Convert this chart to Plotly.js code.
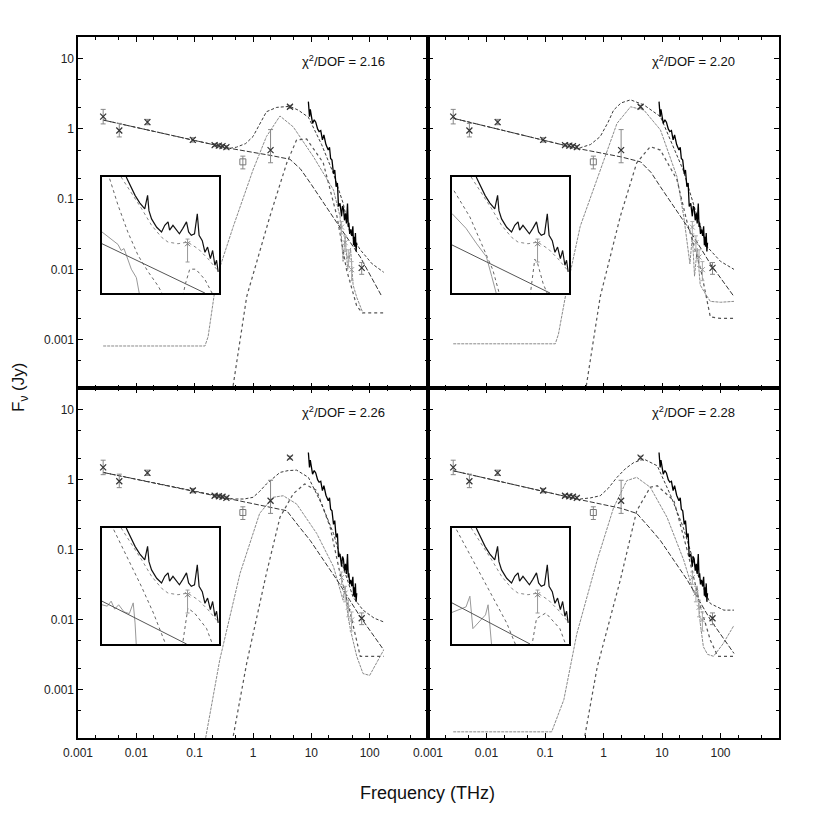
<!DOCTYPE html>
<html>
<head>
<meta charset="utf-8">
<script src="https://cdn.plot.ly/plotly-3.0.1.min.js"></script>
<style>html,body{margin:0;padding:0;background:#fff;}#plot{width:817px;height:817px;}</style>
</head>
<body>
<div id="plot"></div>
<script>
// ---------------- DATA ----------------
// axis ticks
const xTickVals = [0.001, 0.01, 0.1, 1, 10, 100];
const xTickText = ['0.001', '0.01', '0.1', '1', '10', '100'];
const xMinorVals = [0.002, 0.005, 0.02, 0.05, 0.2, 0.5, 2, 5, 20, 50, 200, 500];
const yTickVals = [0.001, 0.01, 0.1, 1, 10];
const yTickText = ['0.001', '0.01', '0.1', '1', '10'];
const yMinorVals = [0.0005, 0.002, 0.005, 0.02, 0.05, 0.2, 0.5, 2, 5, 20];

// panel labels
const chiLabels = ['2.16', '2.20', '2.26', '2.28'];

// photometric points (same in all panels)
const ptFreq = [0.0027, 0.0051, 0.0155, 0.093, 0.22, 0.26, 0.30, 0.35, 2.0, 4.3, 73];
const ptFlux = [1.5, 0.95, 1.25, 0.70, 0.59, 0.58, 0.57, 0.55, 0.50, 2.07, 0.0105];
const ptErrHi = [0.4, 0.25, 0.12, 0.05, 0.03, 0.03, 0.03, 0.03, 0.48, 0.1, 0.002];
const ptErrLo = [0.32, 0.18, 0.1, 0.05, 0.03, 0.03, 0.03, 0.03, 0.17, 0.1, 0.002];
const sqFreq = [0.67];
const sqFlux = [0.34];
const sqErr = [0.07];
const isoFreq = [33, 38, 43, 49];
const isoFlux = [0.04, 0.024, 0.015, 0.0099];
const isoErr = [0.008, 0.006, 0.004, 0.003];

// mid-IR spectrum (same in all panels)
const specFreq = [8.9, 9.3, 9.6, 10.5, 11.2, 11.9, 12.8, 13.6, 14.5, 15.5, 16.4, 17.8, 19.5, 20.5, 21.4, 22.6, 24, 25.2, 26.6, 28, 29.2, 31, 33, 34.2, 35.5, 37, 38.5, 40, 41.7, 43, 44, 45.5, 47.5, 49.5, 51.5, 53, 54, 55.5, 57, 58.5, 60];
const specFlux = [2.45, 1.5, 1.9, 1.2, 1.35, 1.25, 1.0, 0.92, 0.95, 0.70, 0.82, 0.6, 0.5, 0.55, 0.38, 0.36, 0.23, 0.26, 0.15, 0.17, 0.079, 0.087, 0.057, 0.08, 0.074, 0.05, 0.063, 0.045, 0.087, 0.04, 0.046, 0.032, 0.037, 0.03, 0.041, 0.022, 0.029, 0.021, 0.033, 0.018, 0.024];

// panel 1 (chi2 = 2.16)
const p1PlFreq = [0.0027, 0.4, 2, 4.3, 6.5, 9.6, 27.5, 69, 162];
const p1PlFlux = [1.34, 0.53, 0.42, 0.37, 0.27, 0.17, 0.046, 0.015, 0.0041];
const p1TotFreq = [0.0027, 0.4, 0.52, 0.75, 1.0, 1.3, 1.7, 2.55, 4.3, 6, 8.9, 15, 24, 35, 46, 69, 110, 174];
const p1TotFlux = [1.34, 0.53, 0.55, 0.62, 0.78, 1.15, 1.76, 2.03, 2.1, 1.85, 1.47, 0.6, 0.23, 0.088, 0.033, 0.019, 0.012, 0.0091];
const p1CoolFreq = [0.0027, 0.15, 0.17, 0.24, 0.46, 1.0, 1.7, 2.9, 4.9, 10.9, 24, 31, 35, 38, 42, 47, 52, 60, 75];
const p1CoolFlux = [0.00081, 0.00081, 0.0011, 0.0079, 0.041, 0.26, 0.78, 1.53, 1.07, 0.40, 0.135, 0.057, 0.013, 0.03, 0.01, 0.02, 0.006, 0.004, 0.0025];
const p1WarmFreq = [0.44, 0.78, 1.95, 3.8, 5.6, 8.3, 16, 27.5, 40, 60, 75, 170];
const p1WarmFlux = [0.00018, 0.0041, 0.057, 0.33, 0.70, 0.72, 0.33, 0.057, 0.01, 0.003, 0.0024, 0.0024];

// panel 2 (chi2 = 2.20)
const p2PlFreq = [0.0027, 0.35, 2, 4.3, 6.5, 9.4, 27, 67, 170];
const p2PlFlux = [1.42, 0.53, 0.40, 0.34, 0.24, 0.15, 0.041, 0.012, 0.0041];
const p2TotFreq = [0.0027, 0.35, 0.4, 0.6, 0.88, 1.2, 1.49, 2.0, 2.9, 4.9, 9.4, 15, 23, 40, 59, 100, 170];
const p2TotFlux = [1.42, 0.53, 0.54, 0.6, 0.78, 1.25, 1.86, 2.35, 2.6, 2.2, 1.5, 0.6, 0.26, 0.057, 0.021, 0.013, 0.01];
const p2CoolFreq = [0.0027, 0.15, 0.17, 0.24, 0.4, 0.88, 1.7, 2.9, 4.9, 9.4, 18, 23.5, 27, 30, 33, 36, 40, 45, 55, 67, 100, 170];
const p2CoolFlux = [0.00087, 0.00087, 0.0012, 0.0057, 0.041, 0.26, 1.2, 2.07, 1.86, 0.97, 0.21, 0.057, 0.024, 0.012, 0.03, 0.008, 0.02, 0.006, 0.0045, 0.0035, 0.0034, 0.0035];
const p2WarmFreq = [0.49, 0.88, 1.94, 3.7, 6.3, 9.4, 18, 27, 46, 67, 100, 170];
const p2WarmFlux = [0.00018, 0.0041, 0.057, 0.33, 0.56, 0.5, 0.19, 0.046, 0.01, 0.0021, 0.002, 0.002];

// panel 3 (chi2 = 2.26)
const p3PlFreq = [0.0027, 0.4, 2, 3.8, 6, 9.6, 27.5, 69, 174];
const p3PlFlux = [1.27, 0.53, 0.41, 0.36, 0.22, 0.135, 0.037, 0.011, 0.0037];
const p3TotFreq = [0.0027, 0.4, 0.46, 0.7, 1.0, 1.3, 1.7, 2.9, 4, 5.6, 8.9, 15, 24, 35, 52, 77, 120, 174];
const p3TotFlux = [1.27, 0.53, 0.53, 0.53, 0.56, 0.68, 0.87, 1.27, 1.35, 1.37, 1.08, 0.45, 0.17, 0.057, 0.021, 0.0137, 0.0105, 0.0093];
const p3CoolFreq = [0.15, 0.27, 0.6, 1.3, 2.2, 3.3, 5.6, 12.4, 24, 35, 38, 42, 47, 60, 77, 100, 174];
const p3CoolFlux = [0.00018, 0.0027, 0.046, 0.33, 0.56, 0.59, 0.45, 0.17, 0.057, 0.019, 0.03, 0.012, 0.0071, 0.003, 0.0017, 0.0016, 0.0037];
const p3WarmFreq = [0.44, 0.78, 1.7, 2.9, 4.9, 7.7, 12.4, 21, 31, 47, 69, 174];
const p3WarmFlux = [0.00018, 0.0024, 0.046, 0.29, 0.63, 0.87, 0.70, 0.21, 0.046, 0.012, 0.003, 0.003];

// panel 4 (chi2 = 2.28)
const p4PlFreq = [0.0027, 0.35, 2, 3.7, 6, 9.4, 27, 67, 170];
const p4PlFlux = [1.34, 0.53, 0.39, 0.33, 0.21, 0.135, 0.037, 0.01, 0.0033];
const p4TotFreq = [0.0027, 0.35, 0.4, 0.6, 0.88, 1.2, 1.7, 2.4, 3.3, 4.9, 8.3, 14, 23, 40, 67, 114, 170];
const p4TotFlux = [1.34, 0.53, 0.53, 0.55, 0.59, 0.75, 1.08, 1.45, 1.76, 1.97, 1.58, 0.6, 0.21, 0.046, 0.017, 0.0137, 0.0137];
const p4CoolFreq = [0.0027, 0.13, 0.21, 0.35, 0.78, 1.49, 2.5, 3.7, 6.3, 12.2, 23.5, 35, 40, 45, 51, 60, 76, 110, 170];
const p4CoolFlux = [0.00025, 0.00025, 0.00072, 0.0063, 0.071, 0.40, 0.97, 1.08, 0.78, 0.29, 0.071, 0.024, 0.03, 0.009, 0.0041, 0.0032, 0.003, 0.0045, 0.0083];
const p4WarmFreq = [0.46, 0.78, 1.94, 3.7, 6.3, 8.3, 16, 27, 46, 67, 90, 170];
const p4WarmFlux = [0.00018, 0.0021, 0.037, 0.36, 0.78, 0.82, 0.5, 0.098, 0.015, 0.0051, 0.003, 0.003];

// insets (mid-IR close-up)
const inSpecFreq = [8.9, 9.6, 10.7, 11.8, 13.1, 13.9, 14.3, 15.1, 16.8, 18.6, 19.9, 21.3, 22, 23.6, 25.2, 27, 29, 31.3, 32.7, 34.6, 37, 39.2, 40.7, 43.5, 46, 48.6, 51.5, 54, 56.6, 58.6, 60.6];
const inSpecFlux = [2.4, 1.6, 0.95, 0.65, 0.48, 0.95, 0.44, 0.29, 0.19, 0.15, 0.21, 0.25, 0.165, 0.21, 0.165, 0.137, 0.18, 0.25, 0.15, 0.127, 0.137, 0.375, 0.127, 0.097, 0.054, 0.07, 0.039, 0.059, 0.028, 0.036, 0.02];
const inTotFreq = [8.0, 9.9, 12.3, 15.1, 18.6, 21.3, 26.2, 32, 40, 49, 60.6];
const inTotFlux = [2.4, 1.1, 0.48, 0.21, 0.115, 0.09, 0.083, 0.09, 0.064, 0.039, 0.021];
const inPtFreq = [32];
const inPtFlux = [0.083];
const inPtErrHi = [0.022];
const inPtErrLo = [0.05];

const in1CoolFreq = [6.3, 7.5, 9.2, 11.4, 14.1, 17.4, 19.3];
const in1CoolFlux = [2.2, 0.58, 0.15, 0.046, 0.02, 0.0097, 0.006];
const in1PahFreq = [5.37, 6.5, 7.5, 8.0, 8.5, 9.9, 11, 11.8];
const in1PahFlux = [0.15, 0.105, 0.08, 0.059, 0.065, 0.023, 0.015, 0.006];
const in1PlFreq = [5.37, 46];
const in1PlFlux = [0.083, 0.0069];
const in1WarmFreq = [29, 30.6, 33.5, 38, 46, 55];
const in1WarmFlux = [0.006, 0.011, 0.023, 0.023, 0.0136, 0.006];

const in2CoolFreq = [5.6, 7.8, 10.2, 12.6, 14.6];
const in2CoolFlux = [1.2, 0.32, 0.072, 0.022, 0.006];
const in2PahFreq = [5.37, 7.2, 8.9, 11, 12.3, 13.7];
const in2PahFlux = [0.38, 0.18, 0.0855, 0.043, 0.016, 0.006];
const in2PlFreq = [5.37, 41.5];
const in2PlFlux = [0.078, 0.0069];
const in2WarmFreq = [27.4, 30.2, 32, 36, 40];
const in2WarmFlux = [0.006, 0.038, 0.031, 0.011, 0.006];

const in3CoolFreq = [6.86, 9.0, 12.2, 15.7, 20.7];
const in3CoolFlux = [2.2, 0.58, 0.127, 0.033, 0.006];
const in3PahFreq = [5.37, 6.0, 6.5, 7.0, 7.6, 8.5, 9.5, 10.3, 10.7, 11];
const in3PahFlux = [0.05, 0.0466, 0.06, 0.04, 0.05, 0.035, 0.032, 0.055, 0.02, 0.006];
const in3PlFreq = [5.37, 31.4];
const in3PlFlux = [0.06, 0.0069];
const in3WarmFreq = [28.6, 32.2, 37, 47.5, 55];
const in3WarmFlux = [0.006, 0.042, 0.033, 0.0152, 0.006];

const in4CoolFreq = [5.9, 8.3, 11.8, 16.8, 20.6];
const in4CoolFlux = [2.2, 0.47, 0.092, 0.02, 0.006];
const in4PahFreq = [5.37, 7.2, 7.8, 8.3, 10.8, 11.4, 12.3];
const in4PahFlux = [0.034, 0.045, 0.077, 0.015, 0.03, 0.05, 0.006];
const in4PlFreq = [5.37, 27.4];
const in4PlFlux = [0.055, 0.0069];
const in4WarmFreq = [28.3, 31.3, 38, 51, 58.6];
const in4WarmFlux = [0.006, 0.025, 0.033, 0.015, 0.006];

// ---------------- BUILD ----------------
const W = 817, H = 817;
const px = v => v / W;
const py = v => 1 - v / H;

const panels = [
  {x: 'x', y: 'y', pl: [p1PlFreq, p1PlFlux], tot: [p1TotFreq, p1TotFlux], cool: [p1CoolFreq, p1CoolFlux], warm: [p1WarmFreq, p1WarmFlux]},
  {x: 'x2', y: 'y2', pl: [p2PlFreq, p2PlFlux], tot: [p2TotFreq, p2TotFlux], cool: [p2CoolFreq, p2CoolFlux], warm: [p2WarmFreq, p2WarmFlux]},
  {x: 'x3', y: 'y3', pl: [p3PlFreq, p3PlFlux], tot: [p3TotFreq, p3TotFlux], cool: [p3CoolFreq, p3CoolFlux], warm: [p3WarmFreq, p3WarmFlux]},
  {x: 'x4', y: 'y4', pl: [p4PlFreq, p4PlFlux], tot: [p4TotFreq, p4TotFlux], cool: [p4CoolFreq, p4CoolFlux], warm: [p4WarmFreq, p4WarmFlux]}
];
const insets = [
  {x: 'x5', y: 'y5', cool: [in1CoolFreq, in1CoolFlux], pah: [in1PahFreq, in1PahFlux], pl: [in1PlFreq, in1PlFlux], warm: [in1WarmFreq, in1WarmFlux]},
  {x: 'x6', y: 'y6', cool: [in2CoolFreq, in2CoolFlux], pah: [in2PahFreq, in2PahFlux], pl: [in2PlFreq, in2PlFlux], warm: [in2WarmFreq, in2WarmFlux]},
  {x: 'x7', y: 'y7', cool: [in3CoolFreq, in3CoolFlux], pah: [in3PahFreq, in3PahFlux], pl: [in3PlFreq, in3PlFlux], warm: [in3WarmFreq, in3WarmFlux]},
  {x: 'x8', y: 'y8', cool: [in4CoolFreq, in4CoolFlux], pah: [in4PahFreq, in4PahFlux], pl: [in4PlFreq, in4PlFlux], warm: [in4WarmFreq, in4WarmFlux]}
];

function ln(xy, xa, ya, color, dash, width) {
  return {x: xy[0], y: xy[1], xaxis: xa, yaxis: ya, type: 'scatter', mode: 'lines',
    line: {color: color, dash: dash, width: width}, hoverinfo: 'skip'};
}

const traces = [];
panels.forEach(p => {
  traces.push(ln(p.cool, p.x, p.y, '#8a8a8a', '3px,1px', 1));
  traces.push(ln(p.warm, p.x, p.y, '#555', 'dot', 1.2));
  traces.push(ln(p.pl, p.x, p.y, '#333', '5px,2px', 1));
  traces.push(ln(p.tot, p.x, p.y, '#3a3a3a', '3px,2px', 1));
  traces.push(ln([specFreq, specFlux], p.x, p.y, '#000', 'solid', 1.3));
  traces.push({x: isoFreq, y: isoFlux, xaxis: p.x, yaxis: p.y, type: 'scatter', mode: 'markers',
    marker: {symbol: 'x-thin-open', size: 5, color: '#999', line: {width: 1, color: '#999'}},
    error_y: {type: 'data', array: isoErr, thickness: 1, width: 2, color: '#aaa'}, hoverinfo: 'skip'});
  traces.push({x: ptFreq, y: ptFlux, xaxis: p.x, yaxis: p.y, type: 'scatter', mode: 'markers',
    marker: {symbol: 'x-thin-open', size: 6, color: '#333', line: {width: 1.2, color: '#333'}},
    error_y: {type: 'data', array: ptErrHi, arrayminus: ptErrLo, thickness: 1, width: 2.5, color: '#888'}, hoverinfo: 'skip'});
  traces.push({x: sqFreq, y: sqFlux, xaxis: p.x, yaxis: p.y, type: 'scatter', mode: 'markers',
    marker: {symbol: 'square-open', size: 6, color: '#777', line: {width: 1, color: '#777'}},
    error_y: {type: 'data', array: sqErr, thickness: 1, width: 2.5, color: '#888'}, hoverinfo: 'skip'});
});
insets.forEach(s => {
  traces.push(ln(s.cool, s.x, s.y, '#666', 'dot', 1));
  traces.push(ln(s.pah, s.x, s.y, '#999', 'solid', 1));
  traces.push(ln(s.pl, s.x, s.y, '#555', 'solid', 1));
  traces.push(ln(s.warm, s.x, s.y, '#666', 'dot', 1));
  traces.push(ln([inTotFreq, inTotFlux], s.x, s.y, '#888', 'dot', 1));
  traces.push(ln([inSpecFreq, inSpecFlux], s.x, s.y, '#111', 'solid', 1.2));
  traces.push({x: inPtFreq, y: inPtFlux, xaxis: s.x, yaxis: s.y, type: 'scatter', mode: 'markers',
    marker: {symbol: 'x-thin-open', size: 5, color: '#777', line: {width: 1, color: '#777'}},
    error_y: {type: 'data', array: inPtErrHi, arrayminus: inPtErrLo, thickness: 1, width: 2, color: '#999'}, hoverinfo: 'skip'});
});

const tickFont = {family: 'Liberation Sans, Arial, sans-serif', size: 12, color: '#222'};
function mainX(dom, anchor, labels) {
  return {type: 'log', range: [-3, 3], domain: dom, anchor: anchor,
    showline: true, linewidth: 1.6, linecolor: '#000', mirror: 'allticks',
    ticks: 'inside', ticklen: 5, tickwidth: 1, tickcolor: '#000',
    tickmode: 'array', tickvals: xTickVals, ticktext: xTickText, ticklabelstandoff: 3,
    showticklabels: labels, tickfont: tickFont, showgrid: false, zeroline: false,
    minor: {tickmode: 'array', tickvals: xMinorVals, ticks: 'inside', ticklen: 3, tickcolor: '#000', tickwidth: 1, showgrid: false}};
}
function mainY(dom, anchor, labels) {
  return {type: 'log', range: [-3.69, 1.31], domain: dom, anchor: anchor,
    showline: true, linewidth: 1.6, linecolor: '#000', mirror: 'allticks',
    ticks: 'inside', ticklen: 5, tickwidth: 1, tickcolor: '#000',
    tickmode: 'array', tickvals: yTickVals, ticktext: yTickText,
    showticklabels: labels, tickfont: tickFont, showgrid: false, zeroline: false,
    minor: {tickmode: 'array', tickvals: yMinorVals, ticks: 'inside', ticklen: 3, tickcolor: '#000', tickwidth: 1, showgrid: false}};
}
function insetAx(dom, anchor, range) {
  return {type: 'log', range: range, domain: dom, anchor: anchor,
    showline: true, linewidth: 2, linecolor: '#000', mirror: true,
    ticks: '', showticklabels: false, showgrid: false, zeroline: false};
}

const xL = [px(78), px(428)], xR = [px(428), px(779)];
const yT = [py(388), py(37)], yB = [py(738), py(388)];
const ixL = [px(102), px(219)], ixR = [px(452), px(569)];
const iyT = [py(293), py(177)], iyB = [py(644), py(528)];
const inX = [0.73, 1.79], inY = [-2.16, 0.38];

const annFont = {family: 'Liberation Sans, Arial, sans-serif', size: 13, color: '#111'};
const layout = {
  width: W, height: H, margin: {l: 0, r: 0, t: 0, b: 0},
  paper_bgcolor: '#fff', plot_bgcolor: '#fff', showlegend: false,
  xaxis: mainX(xL, 'y', false), yaxis: mainY(yT, 'x', true),
  xaxis2: mainX(xR, 'y2', false), yaxis2: mainY(yT, 'x2', false),
  xaxis3: mainX(xL, 'y3', true), yaxis3: mainY(yB, 'x3', true),
  xaxis4: mainX(xR, 'y4', true), yaxis4: mainY(yB, 'x4', false),
  xaxis5: insetAx(ixL, 'y5', inX), yaxis5: insetAx(iyT, 'x5', inY),
  xaxis6: insetAx(ixR, 'y6', inX), yaxis6: insetAx(iyT, 'x6', inY),
  xaxis7: insetAx(ixL, 'y7', inX), yaxis7: insetAx(iyB, 'x7', inY),
  xaxis8: insetAx(ixR, 'y8', inX), yaxis8: insetAx(iyB, 'x8', inY),
  annotations: [
    {text: 'χ<sup>2</sup>/DOF = ' + chiLabels[0], x: px(387), y: py(61), xref: 'paper', yref: 'paper', xanchor: 'right', yanchor: 'middle', showarrow: false, font: annFont},
    {text: 'χ<sup>2</sup>/DOF = ' + chiLabels[1], x: px(737), y: py(61), xref: 'paper', yref: 'paper', xanchor: 'right', yanchor: 'middle', showarrow: false, font: annFont},
    {text: 'χ<sup>2</sup>/DOF = ' + chiLabels[2], x: px(387), y: py(412), xref: 'paper', yref: 'paper', xanchor: 'right', yanchor: 'middle', showarrow: false, font: annFont},
    {text: 'χ<sup>2</sup>/DOF = ' + chiLabels[3], x: px(737), y: py(412), xref: 'paper', yref: 'paper', xanchor: 'right', yanchor: 'middle', showarrow: false, font: annFont},
    {text: 'F<sub>ν</sub> (Jy)', x: px(20), y: py(388), xref: 'paper', yref: 'paper', xanchor: 'center', yanchor: 'middle', textangle: -90, showarrow: false, font: {family: 'Liberation Sans, Arial, sans-serif', size: 17, color: '#111'}},
    {text: 'Frequency (THz)', x: px(427), y: py(793), xref: 'paper', yref: 'paper', xanchor: 'center', yanchor: 'middle', showarrow: false, font: {family: 'Liberation Sans, Arial, sans-serif', size: 18, color: '#111'}}
  ]
};

Plotly.newPlot('plot', traces, layout, {staticPlot: true, displayModeBar: false});
</script>
</body>
</html>
